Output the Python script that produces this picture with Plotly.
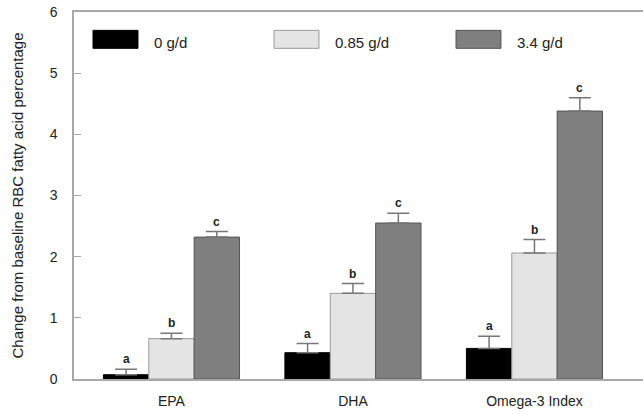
import plotly.graph_objects as go

categories = ["EPA", "DHA", "Omega-3 Index"]
series_names = ["0 g/d", "0.85 g/d", "3.4 g/d"]
means_0 = [0.07, 0.43, 0.50]
means_085 = [0.66, 1.40, 2.06]
means_34 = [2.32, 2.55, 4.38]
err_0 = [0.09, 0.15, 0.20]
err_085 = [0.09, 0.16, 0.22]
err_34 = [0.09, 0.16, 0.22]
letters_0 = ["a", "a", "a"]
letters_085 = ["b", "b", "b"]
letters_34 = ["c", "c", "c"]
y_ticks = [0, 1, 2, 3, 4, 5, 6]

fills = ["#000000", "#e4e4e4", "#7f7f7f"]
outlines = ["#000000", "#9a9a9a", "#555555"]
FONT = "Arial, Liberation Sans, sans-serif"

series = [
    (series_names[0], means_0, err_0, letters_0),
    (series_names[1], means_085, err_085, letters_085),
    (series_names[2], means_34, err_34, letters_34),
]

xpos = list(range(len(categories)))
bar_w = 0.25
n = len(series)

fig = go.Figure()
annotations = []
shapes = []
for j, (name, vals, errs, lets) in enumerate(series):
    fig.add_trace(go.Bar(
        x=xpos, y=vals, name=name, width=bar_w,
        offset=(j - n / 2) * bar_w,
        marker=dict(color=fills[j], line=dict(color=outlines[j], width=1)),
        error_y=dict(type="data", array=errs, symmetric=False,
                     arrayminus=[0] * len(errs),
                     color="#777777", thickness=1.5, width=11),
        showlegend=False,
    ))
    for i, (v, e, l) in enumerate(zip(vals, errs, lets)):
        annotations.append(dict(
            x=i + (j - (n - 1) / 2) * bar_w, y=v + e, xref="x", yref="y",
            text="<b>%s</b>" % l, showarrow=False, yanchor="bottom",
            yshift=1, font=dict(family=FONT, size=12, color="#222222")))

# custom legend (large swatches)
leg_x = [0.0334, 0.3515, 0.6714]
sw_w = 0.079
for j, name in enumerate(series_names):
    shapes.append(dict(type="rect", xref="paper", yref="paper",
                       x0=leg_x[j], x1=leg_x[j] + sw_w, y0=0.901, y1=0.950,
                       fillcolor=fills[j], line=dict(color=outlines[j], width=1)))
    annotations.append(dict(x=leg_x[j] + sw_w + 0.0245, y=0.916, xref="paper",
                            yref="paper", text=name, showarrow=False,
                            xanchor="left", yanchor="middle",
                            font=dict(family=FONT, size=15, color="#222222")))

fig.update_layout(
    width=643, height=414,
    margin=dict(l=74, r=0, t=11.5, b=35),
    paper_bgcolor="white", plot_bgcolor="white",
    barmode="overlay",
    font=dict(family=FONT, size=14, color="#222222"),
    annotations=annotations, shapes=shapes,
    xaxis=dict(range=[-0.537, 2.598], tickmode="array", tickvals=xpos,
               ticktext=categories, showgrid=False, zeroline=False,
               showline=True, linecolor="#a8a8a8", linewidth=1.5,
               mirror=True, ticks="", ticklabelstandoff=8,
               tickfont=dict(family=FONT, size=14, color="#222222")),
    yaxis=dict(range=[0, 6], tickmode="array", tickvals=y_ticks,
               showgrid=False, zeroline=False, showline=True,
               linecolor="#a8a8a8", linewidth=1.5, ticks="inside",
               ticklen=7, tickcolor="#a8a8a8", tickwidth=1,
               ticklabelstandoff=12,
               tickfont=dict(family=FONT, size=14, color="#222222"),
               title=dict(text="Change from baseline RBC fatty acid percentage",
                          font=dict(family=FONT, size=15, color="#222222"),
                          standoff=22)),
)

fig.write_html("out.html", config={"displayModeBar": False, "responsive": False})

# remove default page margin so the figure sits at the window's top-left
with open("out.html", "r", encoding="utf-8") as f:
    html = f.read()
html = html.replace("<head>", "<head><style>html,body{margin:0;padding:0;overflow:hidden;}</style>", 1)
with open("out.html", "w", encoding="utf-8") as f:
    f.write(html)
